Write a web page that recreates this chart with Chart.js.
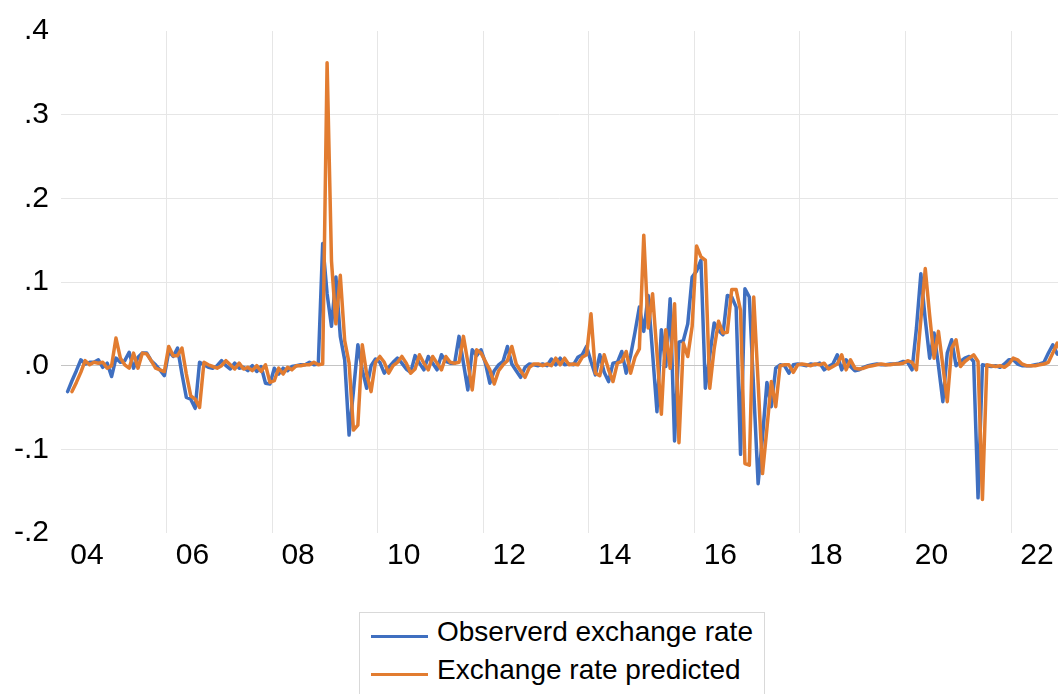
<!DOCTYPE html>
<html>
<head>
<meta charset="utf-8">
<title>Observed vs predicted exchange rate</title>
<script src="https://cdn.jsdelivr.net/npm/chart.js@4.4.1/dist/chart.umd.min.js"></script>
<style>
  html, body { margin: 0; padding: 0; background: #fff; }
  #wrap { position: relative; width: 1058px; height: 694px; overflow: hidden; }
  #chartBox { position: absolute; left: 0; top: 0; width: 1058px; height: 600px; }
  #legend {
    position: absolute; left: 359px; top: 612px; width: 406px; height: 100px;
    border: 1px solid #d9d9d9; box-sizing: border-box;
    font: 28px "Liberation Sans", Arial, sans-serif; color: #000;
  }
  .item { position: absolute; left: 11px; height: 34px; display: flex; align-items: center; white-space: nowrap; }
  .swatch { width: 57px; height: 3px; margin-right: 9px; position: relative; top: 4px; }
</style>
</head>
<body>
<div id="wrap">
  <div id="chartBox"><canvas id="fxChart"></canvas></div>
  <div id="legend"></div>
</div>
<script>
// monthly data, one row per year
const observedStart = [2004, 2];
const predictedStart = [2004, 3];

const observed = [
  -0.031, -0.018, -0.006, 0.007, 0.002, 0.004, 0.004, 0.007, -0.002, 0.003, -0.013,
  0.009, 0.004, 0.006, 0.016, -0.003, 0.010, 0.015, 0.015, 0.006, 0.001, -0.005, -0.012,
  0.017, 0.011, 0.021, -0.010, -0.038, -0.040, -0.051, 0.004, 0.001, -0.002, -0.003, 0.000,
  0.006, 0.000, -0.004, 0.003, -0.003, -0.002, -0.006, 0.000, -0.007, -0.001, -0.021, -0.022,
  -0.003, -0.010, -0.003, -0.006, -0.001, 0.000, 0.001, 0.001, 0.004, 0.001, 0.002, 0.146,
  0.086, 0.047, 0.106, 0.035, 0.007, -0.083, -0.030, 0.025, -0.005, -0.027, 0.000, 0.008,
  0.004, -0.009, -0.002, 0.004, 0.009, 0.003, -0.004, -0.008, 0.012, 0.003, -0.005, 0.011,
  0.003, -0.005, 0.013, 0.005, 0.003, 0.003, 0.035, 0.003, -0.029, 0.019, 0.012, 0.019,
  0.003, -0.021, -0.006, 0.001, 0.005, 0.023, 0.002, -0.006, -0.014, -0.002, 0.002, 0.001,
  0.000, 0.002, 0.000, 0.008, 0.001, 0.009, 0.001, 0.002, 0.001, 0.010, 0.013, 0.023,
  0.005, -0.011, 0.013, -0.008, -0.019, 0.003, 0.004, 0.017, -0.009, 0.012, 0.040, 0.070,
  0.041, 0.084, 0.015, -0.055, 0.043, -0.001, 0.080, -0.090, 0.028, 0.030, 0.050, 0.106,
  0.113, 0.126, -0.027, 0.012, 0.051, 0.042, 0.037, 0.084, 0.082, 0.070, -0.106, 0.092,
  0.082, -0.030, -0.141, -0.085, -0.020, -0.049, -0.003, 0.001, 0.000, -0.009, 0.001, 0.002,
  0.001, 0.000, 0.002, 0.001, 0.003, -0.005, -0.001, 0.002, 0.013, -0.005, 0.007, -0.001,
  -0.006, -0.005, -0.002, 0.000, 0.001, 0.002, 0.001, 0.001, 0.002, 0.002, 0.003, 0.005,
  0.004, -0.005, 0.045, 0.110, 0.055, 0.009, 0.039, 0.000, -0.043, 0.015, 0.031, 0.000,
  0.005, 0.009, 0.011, 0.005, -0.158, 0.001, 0.000, -0.001, 0.000, -0.002, 0.002, 0.007,
  0.007, 0.002, 0.000, 0.000, 0.000, 0.001, 0.002, 0.004, 0.015, 0.025, 0.014, 0.013
];

const predicted = [
  -0.031, -0.020, -0.008, 0.006, 0.001, 0.004, 0.003, 0.004, -0.003, 0.000,
  0.033, 0.009, 0.001, -0.003, 0.015, -0.003, 0.015, 0.014, 0.006, -0.003, -0.005, -0.007,
  0.023, 0.012, 0.012, 0.021, -0.010, -0.036, -0.040, -0.050, 0.004, 0.001, -0.001, -0.003,
  0.000, 0.006, 0.001, -0.004, 0.003, -0.004, -0.002, -0.006, 0.000, -0.007, 0.001, -0.020,
  -0.018, -0.003, -0.010, -0.002, -0.005, 0.000, 0.000, 0.001, 0.001, 0.004, 0.001, 0.002,
  0.362, 0.125, 0.050, 0.108, 0.030, 0.003, -0.077, -0.071, 0.025, -0.010, -0.031, 0.004,
  0.011, 0.004, -0.009, 0.000, 0.004, 0.011, 0.003, -0.009, -0.004, 0.013, 0.003, -0.005,
  0.011, 0.003, -0.005, 0.011, 0.004, 0.003, 0.004, 0.035, 0.004, -0.029, 0.019, 0.015,
  0.005, -0.005, -0.022, -0.006, 0.001, 0.006, 0.023, 0.002, -0.006, -0.014, -0.002, 0.002,
  0.002, 0.000, 0.002, 0.000, 0.009, 0.001, 0.009, 0.001, 0.002, 0.001, 0.010, 0.013,
  0.062, -0.009, -0.012, 0.013, -0.005, -0.019, 0.003, 0.005, 0.017, -0.009, 0.010, 0.020,
  0.156, 0.045, 0.086, 0.015, -0.058, 0.043, -0.003, 0.074, -0.092, 0.027, 0.011, 0.047,
  0.143, 0.130, 0.126, -0.027, 0.020, 0.053, 0.039, 0.040, 0.091, 0.091, 0.066, -0.117,
  -0.119, 0.082, -0.020, -0.129, -0.075, -0.019, -0.049, 0.000, 0.001, 0.001, -0.008, 0.001,
  0.002, 0.001, 0.000, 0.002, 0.001, 0.003, -0.004, -0.001, 0.002, 0.013, -0.005, 0.007,
  -0.003, -0.004, -0.003, -0.001, 0.000, 0.001, 0.002, 0.001, 0.001, 0.002, 0.002, 0.003,
  0.006, 0.004, -0.005, 0.055, 0.116, 0.060, 0.009, 0.041, 0.000, -0.043, 0.021, 0.031,
  -0.001, 0.005, 0.009, 0.013, 0.005, -0.160, 0.001, 0.000, -0.001, 0.000, -0.002, 0.002,
  0.009, 0.007, 0.002, 0.000, 0.000, 0.000, 0.001, 0.002, 0.004, 0.015, 0.027, 0.014
];

const tickYears = [2004, 2006, 2008, 2010, 2012, 2014, 2016, 2018, 2020, 2022];
const seriesLabels = ['Observerd exchange rate', 'Exchange rate predicted'];
const seriesColors = ['#3F6FC0', '#E27C30'];

// month i after start -> decimal year at mid-month
function toPoints(start, values) {
  return values.map((v, i) => {
    const m = start[1] - 1 + i;
    return { x: start[0] + (m + 0.5) / 12, y: v };
  });
}

function fmtY(v) {
  if (Math.abs(v) < 1e-9) v = 0;
  return Number(v).toFixed(1).replace(/^(-?)0\./, '$1.');
}

Chart.defaults.font.family = '"Liberation Sans", Arial, sans-serif';
Chart.defaults.color = '#000';

const ctx = document.getElementById('fxChart').getContext('2d');
const chart = new Chart(ctx, {
  type: 'line',
  data: {
    datasets: [
      { label: seriesLabels[0], data: toPoints(observedStart, observed), borderColor: seriesColors[0], order: 2 },
      { label: seriesLabels[1], data: toPoints(predictedStart, predicted), borderColor: seriesColors[1], order: 1 }
    ]
  },
  options: {
    responsive: true,
    maintainAspectRatio: false,
    animation: false,
    layout: { padding: { top: 31, right: 0, bottom: 0, left: 0 } },
    elements: {
      line: { borderWidth: 3.5, tension: 0, borderJoinStyle: 'round', borderCapStyle: 'round' },
      point: { radius: 0 }
    },
    plugins: { legend: { display: false }, tooltip: { enabled: false } },
    scales: {
      x: {
        type: 'linear',
        min: 2004,
        max: 2022.89,
        afterBuildTicks: s => { s.ticks = tickYears.map(v => ({ value: v })); },
        afterFit: s => { s.height = 67; },
        ticks: {
          autoSkip: false,
          maxRotation: 0,
          labelOffset: 26,
          padding: 5,
          font: { size: 30 },
          callback: v => String(v).slice(2)
        },
        grid: {
          drawTicks: false,
          color: c => (c.tick && c.tick.value === 2004) ? 'rgba(0,0,0,0)' : '#e6e6e6'
        },
        border: { display: false }
      },
      y: {
        min: -0.2,
        max: 0.4,
        afterFit: s => { s.width = 61; },
        ticks: {
          stepSize: 0.1,
          padding: 12,
          font: { size: 30 },
          callback: v => fmtY(v)
        },
        grid: {
          drawTicks: false,
          color: c => {
            const v = c.tick.value;
            if (Math.abs(v) < 1e-9) return '#c4c4c4';
            if (v > 0.35 || v < -0.15) return 'rgba(0,0,0,0)';
            return '#e6e6e6';
          }
        },
        border: { display: false }
      }
    }
  }
});

// legend box under the plot
const legendEl = document.getElementById('legend');
chart.data.datasets.forEach((ds, i) => {
  const item = document.createElement('div');
  item.className = 'item';
  item.style.top = (2 + i * 38) + 'px';
  const sw = document.createElement('span');
  sw.className = 'swatch';
  sw.style.background = ds.borderColor;
  const txt = document.createElement('span');
  txt.textContent = ds.label;
  item.appendChild(sw);
  item.appendChild(txt);
  legendEl.appendChild(item);
});
</script>
</body>
</html>
